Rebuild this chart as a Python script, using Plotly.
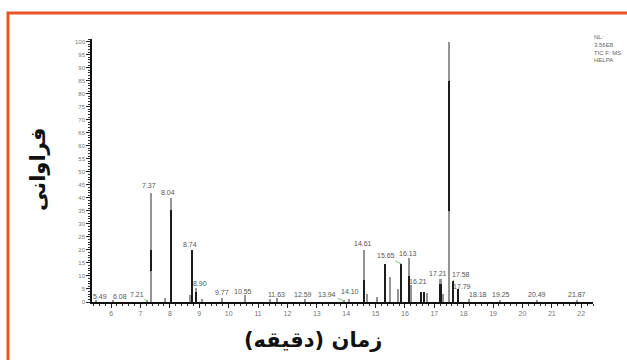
import plotly.graph_objects as go

# ---- data ----
peak_t = [5.49, 6.08, 7.21, 7.37, 7.85, 8.04, 8.68, 8.74, 8.90, 9.10, 9.77, 10.55, 11.40, 11.63,
          12.59, 13.94, 14.10, 14.61, 14.70, 15.05, 15.32, 15.50, 15.75, 15.88, 16.13, 16.21,
          16.55, 16.65, 16.75, 17.21, 17.30, 17.50, 17.62, 17.79, 18.18, 19.25, 20.49, 21.87]
peak_h = [0.6, 0.6, 0.8, 42, 1.5, 40, 2.5, 20, 5.5, 1.0, 1.5, 2.5, 1.0, 1.5,
          1.0, 0.5, 1.2, 20, 3, 2, 14.5, 9.5, 5, 14.6, 17, 6.5,
          4, 4, 3.5, 9, 3, 100, 8, 5, 1, 0.5, 0.4, 0.4]

dark_t = [7.37, 8.04, 8.74, 8.90, 14.61, 15.32, 15.88, 16.13, 16.55, 16.65, 17.21, 17.50, 17.62, 17.79]
dark_lo = [12, 0, 0, 0, 0, 0, 0, 0, 0, 0, 0, 35, 0, 0]
dark_hi = [20, 35.5, 20, 4, 8.5, 14.5, 14.6, 10, 4, 4, 7, 85, 8, 5]

# label text, label x, label y (centre), leader target x, leader target y
label_text = ["5.49", "6.08", "7.21", "7.37", "8.04", "8.74", "8.90", "9.77", "10.55", "11.63",
              "12.59", "13.94", "14.10", "14.61", "15.65", "16.13", "16.21", "17.21", "17.50",
              "17.58", "17.79", "18.18", "19.25", "20.49", "21.87"]
label_x = [5.62, 6.30, 6.87, 7.30, 7.95, 8.70, 9.03, 9.77, 10.50, 11.64,
           12.52, 13.35, 14.12, 14.57, 15.35, 16.10, 16.44, 17.12, 17.42,
           17.90, 17.93, 18.48, 19.26, 20.48, 21.85]
label_y = [2.3, 2.3, 3.0, 44.6, 42.0, 22.0, 7.0, 3.5, 4.2, 3.0,
           3.0, 3.0, 3.9, 22.6, 17.7, 18.5, 7.7, 11.0, 103.5,
           10.4, 5.8, 3.0, 3.0, 3.0, 3.0]
lead_x = [5.49, 6.08, 7.21, None, None, None, 8.90, None, None, None,
          None, 13.94, None, None, 15.88, None, 16.21, 17.21, None,
          17.62, 17.79, 18.18, None, None, None]
lead_y = [0.4, 0.4, 0.5, None, None, None, 5.0, None, None, None,
          None, 0.4, None, None, 14.6, None, 6.0, 9.0, None,
          8.0, 5.0, 0.8, None, None, None]

x_ticks = list(range(6, 23))
y_ticks = list(range(0, 101, 5))

fig = go.Figure()
fig.add_trace(go.Bar(x=peak_t, y=peak_h, width=0.07, marker=dict(color="#949494", line=dict(width=0)),
                     hoverinfo="x+y"))
fig.add_trace(go.Bar(x=dark_t, y=[h - l for h, l in zip(dark_hi, dark_lo)], base=dark_lo, width=0.07,
                     marker=dict(color="#1c1c1c", line=dict(width=0))))

for t, x, y, lx, ly in zip(label_text, label_x, label_y, lead_x, lead_y):
    if lx is None:
        fig.add_annotation(x=x, y=y, text=t, showarrow=False, xref="x", yref="y",
                           font=dict(family="Liberation Sans, Arial", size=7, color="#555555"))
    else:
        fig.add_annotation(x=lx, y=ly, ax=x, ay=y, axref="x", ayref="y", xref="x", yref="y",
                           text=t, showarrow=True, arrowhead=0, arrowwidth=1, arrowcolor="#7cc47c",
                           standoff=0, startstandoff=0,
                           font=dict(family="Liberation Sans, Arial", size=7, color="#555555"))

# axis titles (Persian)
fig.add_annotation(xref="paper", yref="paper", x=(313 - 92) / 501, y=(302 - 340) / 263,
                   xanchor="center", yanchor="middle",
                   text="<b>زمان (دقیقه)</b>", showarrow=False,
                   font=dict(family="DejaVu Sans", size=21, color="#111111"))
fig.add_annotation(xref="paper", yref="paper", x=(38 - 92) / 501, y=(302 - 170) / 263,
                   xanchor="center", yanchor="middle",
                   text="<b>فراوانی</b>", showarrow=False, textangle=-90,
                   font=dict(family="DejaVu Sans", size=21, color="#111111"))

# instrument note top-right
fig.add_annotation(xref="paper", yref="paper", x=(592 - 92) / 501, y=(302 - 32) / 263,
                   xanchor="left", yanchor="top", align="left", showarrow=False,
                   text="NL:<br>3.56E8<br>TIC F: MS<br>HELPA",
                   font=dict(family="Liberation Sans, Arial", size=6, color="#666666"))

# orange frame
fig.add_shape(type="rect", xref="paper", yref="paper",
              x0=(8 - 92) / 501, x1=(640 - 92) / 501, y0=(302 - 380) / 263, y1=(302 - 13) / 263,
              line=dict(color="#ea5426", width=3), fillcolor="rgba(0,0,0,0)", layer="above")

fig.update_layout(
    width=627, height=360,
    margin=dict(l=92, r=34, t=39, b=58, autoexpand=False),
    plot_bgcolor="white", paper_bgcolor="white",
    barmode="overlay", bargap=0, showlegend=False,
    xaxis=dict(range=[5.35, 22.4], tickvals=x_ticks, ticks="outside", ticklen=4, tickwidth=1,
               tickcolor="#222", showline=True, linecolor="#111", linewidth=1.5, showgrid=False,
               zeroline=False, tickfont=dict(family="Liberation Sans, Arial", size=7, color="#777"),
               minor=dict(dtick=0.2, ticks="outside", ticklen=2, tickcolor="#333", showgrid=False)),
    yaxis=dict(range=[0, 101], tickvals=y_ticks, ticks="outside", ticklen=4, tickwidth=1,
               tickcolor="#222", showline=True, linecolor="#111", linewidth=1.5, showgrid=False,
               zeroline=False, tickfont=dict(family="Liberation Sans, Arial", size=6, color="#777"),
               minor=dict(dtick=1, ticks="outside", ticklen=2, tickcolor="#333", showgrid=False)),
)

fig.write_html("out.html", config={"displayModeBar": False},
               post_script="document.body.style.margin='0px';")
